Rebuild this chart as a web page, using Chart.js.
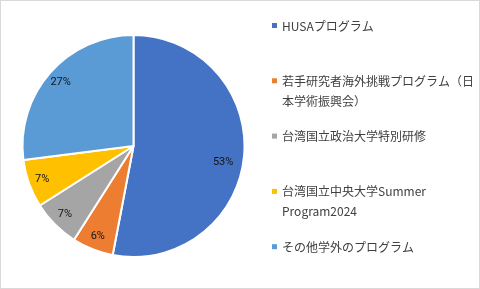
<!DOCTYPE html>
<html><head><meta charset="utf-8">
<script src="https://cdn.jsdelivr.net/npm/chart.js@4"></script>
<style>
html,body{margin:0;padding:0;background:#fff;}
#wrap{width:480px;height:289px;position:relative;}
</style></head>
<body><div id="wrap"><canvas id="c" width="480" height="289"></canvas></div>
<script>
const categories = [
  ["HUSAプログラム"],
  ["若手研究者海外挑戦プログラム（日", "本学術振興会）"],
  ["台湾国立政治大学特別研修"],
  ["台湾国立中央大学Summer", "Program2024"],
  ["その他学外のプログラム"]
];
const shares = [53, 6, 7, 7, 27];
const percentLabels = ["53%", "6%", "7%", "7%", "27%"];
const colors = ["#4472C4", "#ED7D31", "#A5A5A5", "#FFC000", "#5B9BD5"];

const sliceLabels = {
  id: 'sliceLabels',
  afterDatasetsDraw(chart) {
    const ctx = chart.ctx;
    const meta = chart.getDatasetMeta(0);
    ctx.save();
    ctx.font = '11px Roboto, "Liberation Sans", sans-serif';
    ctx.fillStyle = '#141414';
    ctx.textAlign = 'center';
    ctx.textBaseline = 'middle';
    meta.data.forEach((arc, i) => {
      const p = arc.getProps(['x','y','startAngle','endAngle','outerRadius'], true);
      const mid = (p.startAngle + p.endAngle) / 2 + (i === 0 ? 0.08 : 0);
      const r = p.outerRadius * (i === 0 ? 0.82 : 0.875);
      ctx.fillText(percentLabels[i], p.x + Math.cos(mid) * r, p.y + Math.sin(mid) * r);
    });
    ctx.restore();
  }
};

const sideLegend = {
  id: 'sideLegend',
  afterDraw(chart) {
    const ctx = chart.ctx;
    ctx.save();
    ctx.font = '12px "Noto Sans CJK JP", sans-serif';
    ctx.textBaseline = 'middle';
    ctx.textAlign = 'left';
    categories.forEach((lines, i) => {
      const y0 = 26 + i * 55.3;
      ctx.fillStyle = colors[i];
      ctx.fillRect(272, y0 - 3, 5, 5);
      ctx.fillStyle = '#404040';
      lines.forEach((t, j) => ctx.fillText(t, 282, y0 + j * 20));
    });
    ctx.strokeStyle = '#d9d9d9';
    ctx.lineWidth = 1;
    ctx.strokeRect(0.5, 0.5, 479, 288);
    ctx.restore();
  }
};

new Chart(document.getElementById('c'), {
  type: 'pie',
  data: {
    labels: categories,
    datasets: [{
      data: shares,
      backgroundColor: colors,
      borderColor: '#ffffff',
      borderWidth: 2
    }]
  },
  options: {
    responsive: false,
    animation: false,
    layout: { padding: { left: 21, right: 234, top: 34, bottom: 31 } },
    plugins: { legend: { display: false }, tooltip: { enabled: false } }
  },
  plugins: [sliceLabels, sideLegend]
});
</script></body></html>
